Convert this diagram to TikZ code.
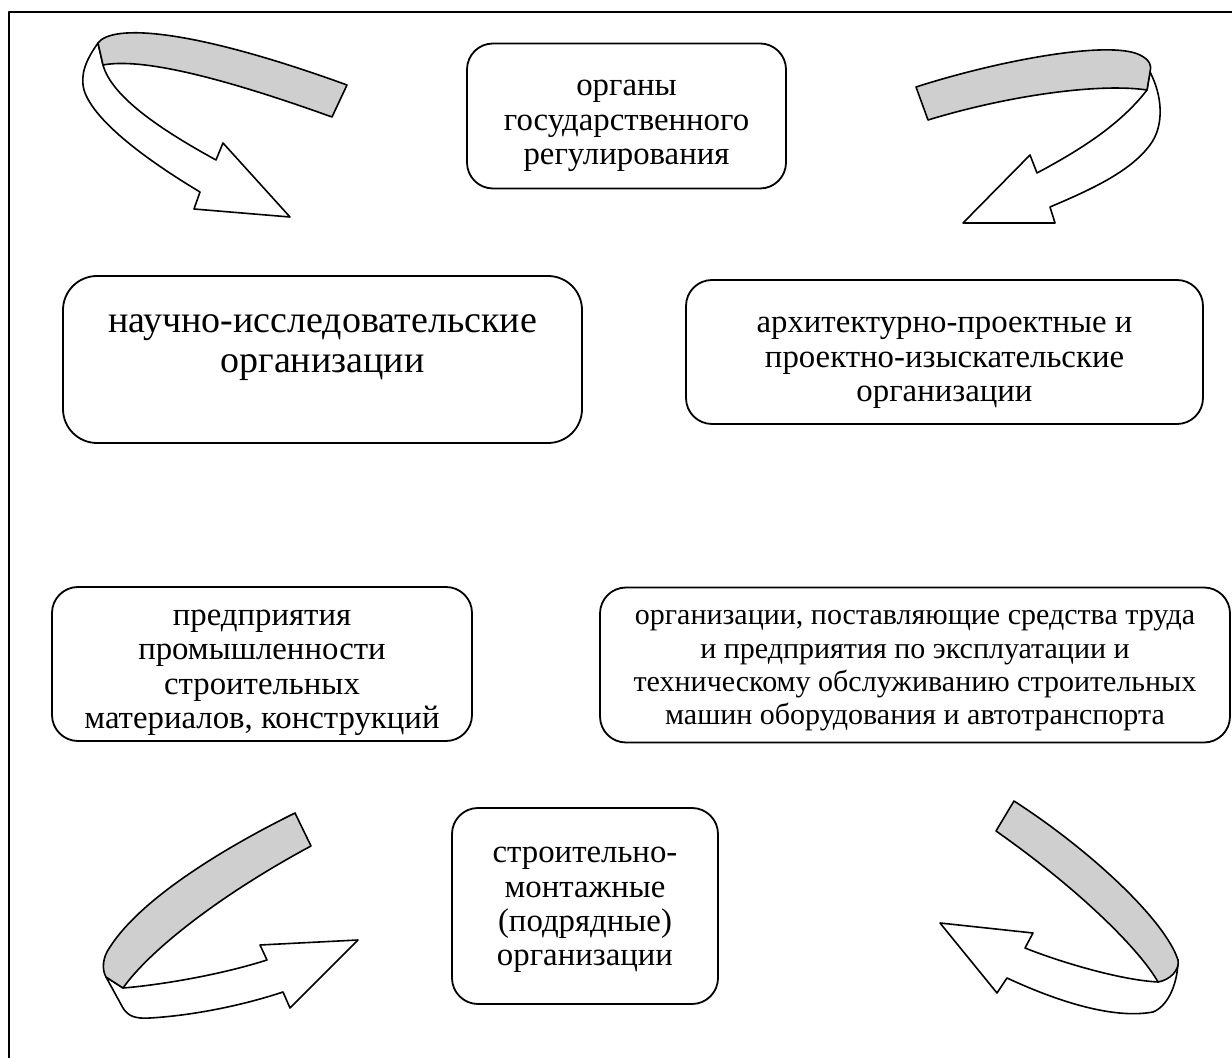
\documentclass[tikz,border=0pt]{standalone}
\usepackage{fontspec}
\setmainfont{Liberation Serif}
\begin{document}
\begin{tikzpicture}[x=0.5pt, y=-0.5pt, line join=round,
  org/.style={draw, line width=0.9pt, rounded corners=13pt},
  orgtxt/.style={align=center, inner sep=0pt, font=\fontsize{16.4}{17.2}\selectfont},
  band/.style={draw, line width=0.8pt, fill=black!19},
  face/.style={draw, line width=0.8pt, fill=white}]
\useasboundingbox (0,0) rectangle (1232,1058);
\draw[line width=1pt] (9,1058) -- (9,12) -- (1232,12);

\node[org, minimum width=159.5pt, minimum height=72.5pt] (gos) at (626.5,116) {};
\node[orgtxt] (gostxt) at ([yshift=-5pt]gos.center) {органы\\государственного\\регулирования};
\node[org, minimum width=259.5pt, minimum height=83.5pt, rounded corners=17pt] (nauch) at (322.5,359.5) {};
\node[orgtxt, font=\fontsize{19}{19.6}\selectfont] (nauchtxt) at ([yshift=6pt]nauch.center) {научно-исследовательские\\организации};
\node[org, minimum width=258.5pt, minimum height=72pt] (arch) at (944.5,352) {};
\node[orgtxt] (archtxt) at ([yshift=-5.5pt]arch.center) {архитектурно-проектные и\\проектно-изыскательские\\организации};
\node[org, minimum width=210pt, minimum height=77pt] (prom) at (262,664) {};
\node[orgtxt] (promtxt) at ([yshift=-4.5pt]prom.center) {предприятия\\промышленности\\строительных\\материалов, конструкций};
\node[org, minimum width=315pt, minimum height=77.5pt] (mash) at (915,665) {};
\node[orgtxt, font=\fontsize{15}{16.7}\selectfont] (mashtxt) at ([yshift=-3pt]mash.center) {организации, поставляющие средства труда\\и предприятия по эксплуатации и\\техническому обслуживанию строительных\\машин оборудования и автотранспорта};
\node[org, minimum width=133pt, minimum height=98pt] (stroy) at (585,906) {};
\node[orgtxt] (stroytxt) at ([yshift=-2pt]stroy.center) {строительно-\\монтажные\\(подрядные)\\организации};

% top left
\draw[face] (98,43) .. controls (86,60) and (80,74) .. (84,90) .. controls (94,122) and (150,162) .. (200,192) -- (194,209) -- (290,217) -- (223,143) -- (216,160) .. controls (165,132) and (112,98) .. (103,65) -- cycle;
\draw[band] (98,43) .. controls (112,24) and (190,28) .. (347,85) -- (332,117) .. controls (215,75) and (140,58) .. (103,65) -- cycle;
% top right
\draw[face] (1150,72) .. controls (1162,95) and (1165,125) .. (1150,145) .. controls (1130,172) and (1090,190) .. (1050,207) -- (1055,223) -- (963,223) -- (1030,155) -- (1037,173) .. controls (1080,150) and (1120,125) .. (1147,90) -- cycle;
\draw[band] (916,87) .. controls (1000,60) and (1110,40) .. (1140,55) .. controls (1150,60) and (1152,66) .. (1150,72) -- (1147,90) .. controls (1100,83) and (1010,95) .. (928,120) -- cycle;
% bottom left
\draw[face] (106,977) -- (123,1008) .. controls (128,1016) and (135,1019) .. (150,1018) .. controls (200,1015) and (250,1003) .. (283,992) -- (290,1008) -- (358,940) -- (260,945) -- (267,960) .. controls (220,975) and (160,985) .. (123,988) -- cycle;
\draw[band] (295,813) .. controls (220,850) and (140,900) .. (110,947) .. controls (102,958) and (102,970) .. (106,977) -- (123,988) .. controls (150,950) and (220,895) .. (311,846) -- cycle;
% bottom right
\draw[face] (1178,960) .. controls (1178,980) and (1170,1005) .. (1153,1012) .. controls (1110,1020) and (1050,998) .. (1007,978) -- (997,993) -- (940,923) -- (1033,933) -- (1025,948) .. controls (1060,962) and (1120,980) .. (1158,982) -- cycle;
\draw[band] (1014,801) .. controls (1090,850) and (1165,920) .. (1178,960) .. controls (1180,970) and (1170,980) .. (1158,982) .. controls (1140,950) and (1080,890) .. (996,831) -- cycle;
\end{tikzpicture}
\end{document}
